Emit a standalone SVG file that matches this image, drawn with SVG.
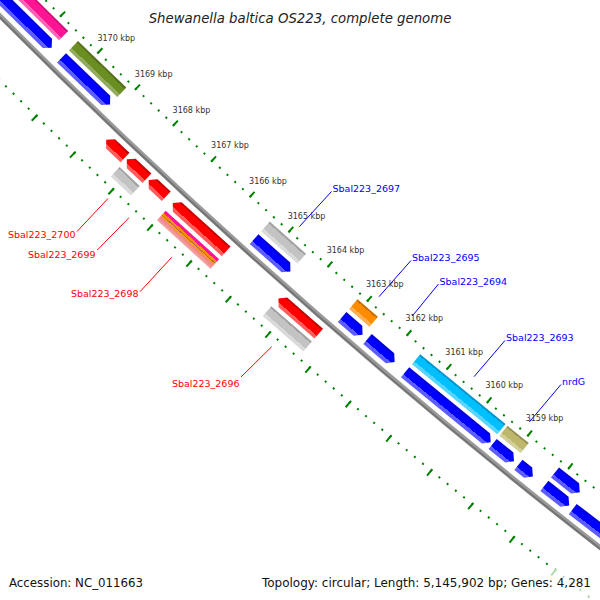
<svg xmlns="http://www.w3.org/2000/svg" width="600" height="600" viewBox="0 0 600 600">
<style>
text{font-family:"DejaVu Sans","Liberation Sans",sans-serif}
.tick{font-size:8px;fill:#333}
.lblB{font-size:9.5px;fill:#0000ff}
.lblR{font-size:9.5px;fill:#ff0000;text-anchor:end}
.ldB{stroke:#0000ff;stroke-width:1;fill:none}
.ldR{stroke:#ff0000;stroke-width:1;fill:none}
.minor{fill:none;stroke:#008000;stroke-width:2}
.major{fill:none;stroke:#008000}
.blue{fill:url(#gBlue)}
.red{fill:url(#gRed)}
.gray{fill:url(#gGray)}
.pink{fill:url(#gPink)}
.olive{fill:url(#gOlive)}
.orange{fill:url(#gOrange)}
.cyan{fill:url(#gCyan)}
.khaki{fill:url(#gKhaki)}
.stripe{fill:url(#gStripe)}
.foot{font-size:11.8px;fill:#111}
</style>
<defs>
<linearGradient id="gBlue"><stop offset="0" stop-color="#0000d4"/><stop offset=".15" stop-color="#0000d4"/><stop offset=".15" stop-color="#0000ff"/><stop offset=".7" stop-color="#0000ff"/><stop offset=".7" stop-color="#5c5cff"/><stop offset="1" stop-color="#5c5cff"/></linearGradient>
<linearGradient id="gRed"><stop offset="0" stop-color="#c80000"/><stop offset=".15" stop-color="#c80000"/><stop offset=".15" stop-color="#ff0000"/><stop offset=".72" stop-color="#ff0000"/><stop offset=".72" stop-color="#ff5c5c"/><stop offset="1" stop-color="#ff5c5c"/></linearGradient>
<linearGradient id="gGray"><stop offset="0" stop-color="#a2a2a2"/><stop offset=".15" stop-color="#a2a2a2"/><stop offset=".15" stop-color="#c3c3c3"/><stop offset=".72" stop-color="#c3c3c3"/><stop offset=".72" stop-color="#dadada"/><stop offset="1" stop-color="#dadada"/></linearGradient>
<linearGradient id="gPink"><stop offset="0" stop-color="#d0107a"/><stop offset=".15" stop-color="#d0107a"/><stop offset=".15" stop-color="#ff1493"/><stop offset=".72" stop-color="#ff1493"/><stop offset=".72" stop-color="#ff62b6"/><stop offset="1" stop-color="#ff62b6"/></linearGradient>
<linearGradient id="gOlive"><stop offset="0" stop-color="#55711c"/><stop offset=".15" stop-color="#55711c"/><stop offset=".15" stop-color="#6b8e23"/><stop offset=".72" stop-color="#6b8e23"/><stop offset=".72" stop-color="#93ab5e"/><stop offset="1" stop-color="#93ab5e"/></linearGradient>
<linearGradient id="gOrange"><stop offset="0" stop-color="#c87000"/><stop offset=".15" stop-color="#c87000"/><stop offset=".15" stop-color="#ff8c00"/><stop offset=".72" stop-color="#ff8c00"/><stop offset=".72" stop-color="#ffae52"/><stop offset="1" stop-color="#ffae52"/></linearGradient>
<linearGradient id="gCyan"><stop offset="0" stop-color="#0098cc"/><stop offset=".15" stop-color="#0098cc"/><stop offset=".15" stop-color="#00bfff"/><stop offset=".72" stop-color="#00bfff"/><stop offset=".72" stop-color="#55d5ff"/><stop offset="1" stop-color="#55d5ff"/></linearGradient>
<linearGradient id="gKhaki"><stop offset="0" stop-color="#979254"/><stop offset=".15" stop-color="#979254"/><stop offset=".15" stop-color="#bdb76b"/><stop offset=".72" stop-color="#bdb76b"/><stop offset=".72" stop-color="#d3cf9b"/><stop offset="1" stop-color="#d3cf9b"/></linearGradient>
<linearGradient id="gStripe"><stop offset="0" stop-color="#ff1493"/><stop offset=".24" stop-color="#ff1493"/><stop offset=".24" stop-color="#ff8c00"/><stop offset=".42" stop-color="#ff8c00"/><stop offset=".42" stop-color="#a06a50"/><stop offset=".48" stop-color="#a06a50"/><stop offset=".48" stop-color="#ff9a20"/><stop offset=".6" stop-color="#ff9a20"/><stop offset=".6" stop-color="#f08080"/><stop offset="1" stop-color="#f4a6a6"/></linearGradient>
</defs>
<rect x="0" y="0" width="600" height="600" fill="#ffffff"/>
<g id="ruler" transform="translate(4500 -4460)">
<path d="M -4616.66 4355.57 A 6347 6347 0 0 0 -3833.16 5058.79" fill="none" stroke="#9a9a9a" stroke-width="5"/>
<path d="M -4617.39 4356.26 A 6348 6348 0 0 0 -3833.76 5059.59" fill="none" stroke="#747474" stroke-width="2"/>
<path class="minor" d="M -4585.16 4325.85 A 6303.7 6303.7 0 0 0 -3807.01 5024.28" stroke-dasharray="2 8.4685" stroke-dashoffset="1"/>
<path class="major" d="M -4583.60 4324.37 A 6301.55 6301.55 0 0 0 -3805.71 5022.57" stroke-width="7.3" stroke-dasharray="2 50.324" stroke-dashoffset="1"/>
<path class="minor" d="M -4649.82 4386.86 A 6392.6 6392.6 0 0 0 -3860.70 5095.14" stroke-dasharray="2 8.616" stroke-dashoffset="1"/>
<path class="major" d="M -4651.53 4388.47 A 6394.95 6394.95 0 0 0 -3862.12 5097.01" stroke-width="8.3" stroke-dasharray="2 51.1" stroke-dashoffset="1"/>
</g>
<g id="features" transform="translate(4500 -4460)">
<g id="B1" transform="rotate(134.62)"><polygon class="blue" points="6326.5,152.5 6339.5,152.5 6339.5,6 6333,0 6326.5,6"/></g>
<g id="P1" transform="rotate(134.62)"><rect class="pink" x="6309.5" y="0" width="13" height="152.1"/></g>
<g id="B2" transform="rotate(133.883)"><polygon class="blue" points="6326.5,67.3 6339.5,67.3 6339.5,6 6333,0 6326.5,6"/></g>
<g id="G1" transform="rotate(133.883)"><rect class="olive" x="6309.5" y="0" width="13" height="67.1"/></g>
<g id="R1" transform="rotate(133.455)"><polygon class="red" points="6354.5,0 6367.5,0 6367.5,19.9 6361,25.9 6354.5,19.9"/></g>
<g id="R2" transform="rotate(133.183)"><polygon class="red" points="6354.5,0 6367.5,0 6367.5,21.6 6361,27.6 6354.5,21.6"/></g>
<g id="GR2" transform="rotate(133.183)"><rect class="gray" x="6371.5" y="0" width="13" height="27.7"/></g>
<g id="R3" transform="rotate(132.945)"><polygon class="red" points="6354.5,0 6367.5,0 6367.5,18 6361,24 6354.5,18"/></g>
<g id="R4" transform="rotate(132.212)"><polygon class="red" points="6354.5,0 6367.5,0 6367.5,66.1 6361,72.1 6354.5,66.1"/></g>
<g id="S1" transform="rotate(132.212)"><rect class="stripe" x="6371.5" y="0" width="13" height="72.2"/></g>
<g id="B3" transform="rotate(131.66)"><polygon class="blue" points="6326.5,48.6 6339.5,48.6 6339.5,6 6333,0 6326.5,6"/></g>
<g id="GR1" transform="rotate(131.66)"><rect class="gray" x="6309.5" y="0" width="13" height="48.5"/></g>
<g id="R5" transform="rotate(131.096)"><polygon class="red" points="6354.5,0 6367.5,0 6367.5,47.6 6361,53.6 6354.5,47.6"/></g>
<g id="GR3" transform="rotate(131.096)"><rect class="gray" x="6371.5" y="0" width="13" height="53.8"/></g>
<g id="B4" transform="rotate(130.792)"><polygon class="blue" points="6326.5,27 6339.5,27 6339.5,6 6333,0 6326.5,6"/></g>
<g id="O1" transform="rotate(130.792)"><rect class="orange" x="6309.5" y="0" width="13" height="26.9"/></g>
<g id="B5" transform="rotate(130.41)"><polygon class="blue" points="6326.5,35.6 6339.5,35.6 6339.5,6 6333,0 6326.5,6"/></g>
<g id="B6" transform="rotate(129.278)"><polygon class="blue" points="6326.5,110.6 6339.5,110.6 6339.5,6 6333,0 6326.5,6"/></g>
<g id="C1" transform="rotate(129.278)"><rect class="cyan" x="6309.5" y="0" width="13" height="110.3"/></g>
<g id="B7" transform="rotate(129.006)"><polygon class="blue" points="6326.5,27.5 6339.5,27.5 6339.5,6 6333,0 6326.5,6"/></g>
<g id="K1" transform="rotate(129.006)"><rect class="khaki" x="6309.5" y="0" width="13" height="27.4"/></g>
<g id="B8" transform="rotate(128.787)"><polygon class="blue" points="6326.5,18.5 6339.5,18.5 6339.5,6 6333,0 6326.5,6"/></g>
<g id="B9" transform="rotate(128.366)"><polygon class="blue" points="6326.5,31.7 6339.5,31.7 6339.5,6 6333,0 6326.5,6"/></g>
<g id="B11" transform="rotate(128.366)"><polygon class="blue" points="6309.5,31.6 6322.5,31.6 6322.5,6 6316,0 6309.5,6"/></g>
<g id="B10" transform="rotate(127.5)"><polygon class="blue" points="6326.5,90.7 6339.5,90.7 6339.5,6 6333,0 6326.5,6"/></g>
</g>
<g id="connectors">
<line class="ldB" x1="331.5" y1="191.5" x2="299.3" y2="226.7"/>
<line class="ldB" x1="411" y1="260.5" x2="379" y2="296.7"/>
<line class="ldB" x1="438.5" y1="284" x2="412.3" y2="316"/>
<line class="ldB" x1="505" y1="340.5" x2="474" y2="376.7"/>
<line class="ldB" x1="561" y1="384.5" x2="529.3" y2="422"/>
<line class="ldR" x1="77" y1="231.5" x2="108" y2="198.5"/>
<line class="ldR" x1="97.3" y1="250" x2="129" y2="217.7"/>
<line class="ldR" x1="140" y1="291.7" x2="171.7" y2="257.3"/>
<line class="ldR" x1="241" y1="377" x2="271.7" y2="346.7"/>
</g>
<g id="labels">
<text class="lblB" x="332.5" y="192">Sbal223_2697</text>
<text class="lblB" x="412" y="261">Sbal223_2695</text>
<text class="lblB" x="439.5" y="284.5">Sbal223_2694</text>
<text class="lblB" x="506" y="341">Sbal223_2693</text>
<text class="lblB" x="562" y="385">nrdG</text>
<text class="lblR" x="75.5" y="238">Sbal223_2700</text>
<text class="lblR" x="95.5" y="258">Sbal223_2699</text>
<text class="lblR" x="138.5" y="297">Sbal223_2698</text>
<text class="lblR" x="239.5" y="387">Sbal223_2696</text>
</g>
<g id="tick-labels">
<text class="tick" x="97.4" y="40.5">3170 kbp</text>
<text class="tick" x="134.8" y="76.8">3169 kbp</text>
<text class="tick" x="172.6" y="112.7">3168 kbp</text>
<text class="tick" x="211.1" y="148.2">3167 kbp</text>
<text class="tick" x="249.1" y="183.5">3166 kbp</text>
<text class="tick" x="287.7" y="218.5">3165 kbp</text>
<text class="tick" x="326.7" y="253.1">3164 kbp</text>
<text class="tick" x="365.9" y="287.4">3163 kbp</text>
<text class="tick" x="405.5" y="321.4">3162 kbp</text>
<text class="tick" x="445.3" y="355">3161 kbp</text>
<text class="tick" x="485.4" y="388.3">3160 kbp</text>
<text class="tick" x="525.7" y="421.3">3159 kbp</text>
</g>
<g id="legend">
<text x="300" y="23" text-anchor="middle" font-style="italic" font-size="13.3" fill="#222">Shewanella baltica OS223, complete genome</text>
<rect x="256" y="569" width="342" height="28" fill="#ffffff" fill-opacity="0.7"/>
<text class="foot" x="9" y="587">Accession: NC_011663</text>
<text class="foot" x="591" y="587" text-anchor="end" font-size="12" textLength="329" lengthAdjust="spacingAndGlyphs">Topology: circular; Length: 5,145,902 bp; Genes: 4,281</text>
</g>
</svg>
